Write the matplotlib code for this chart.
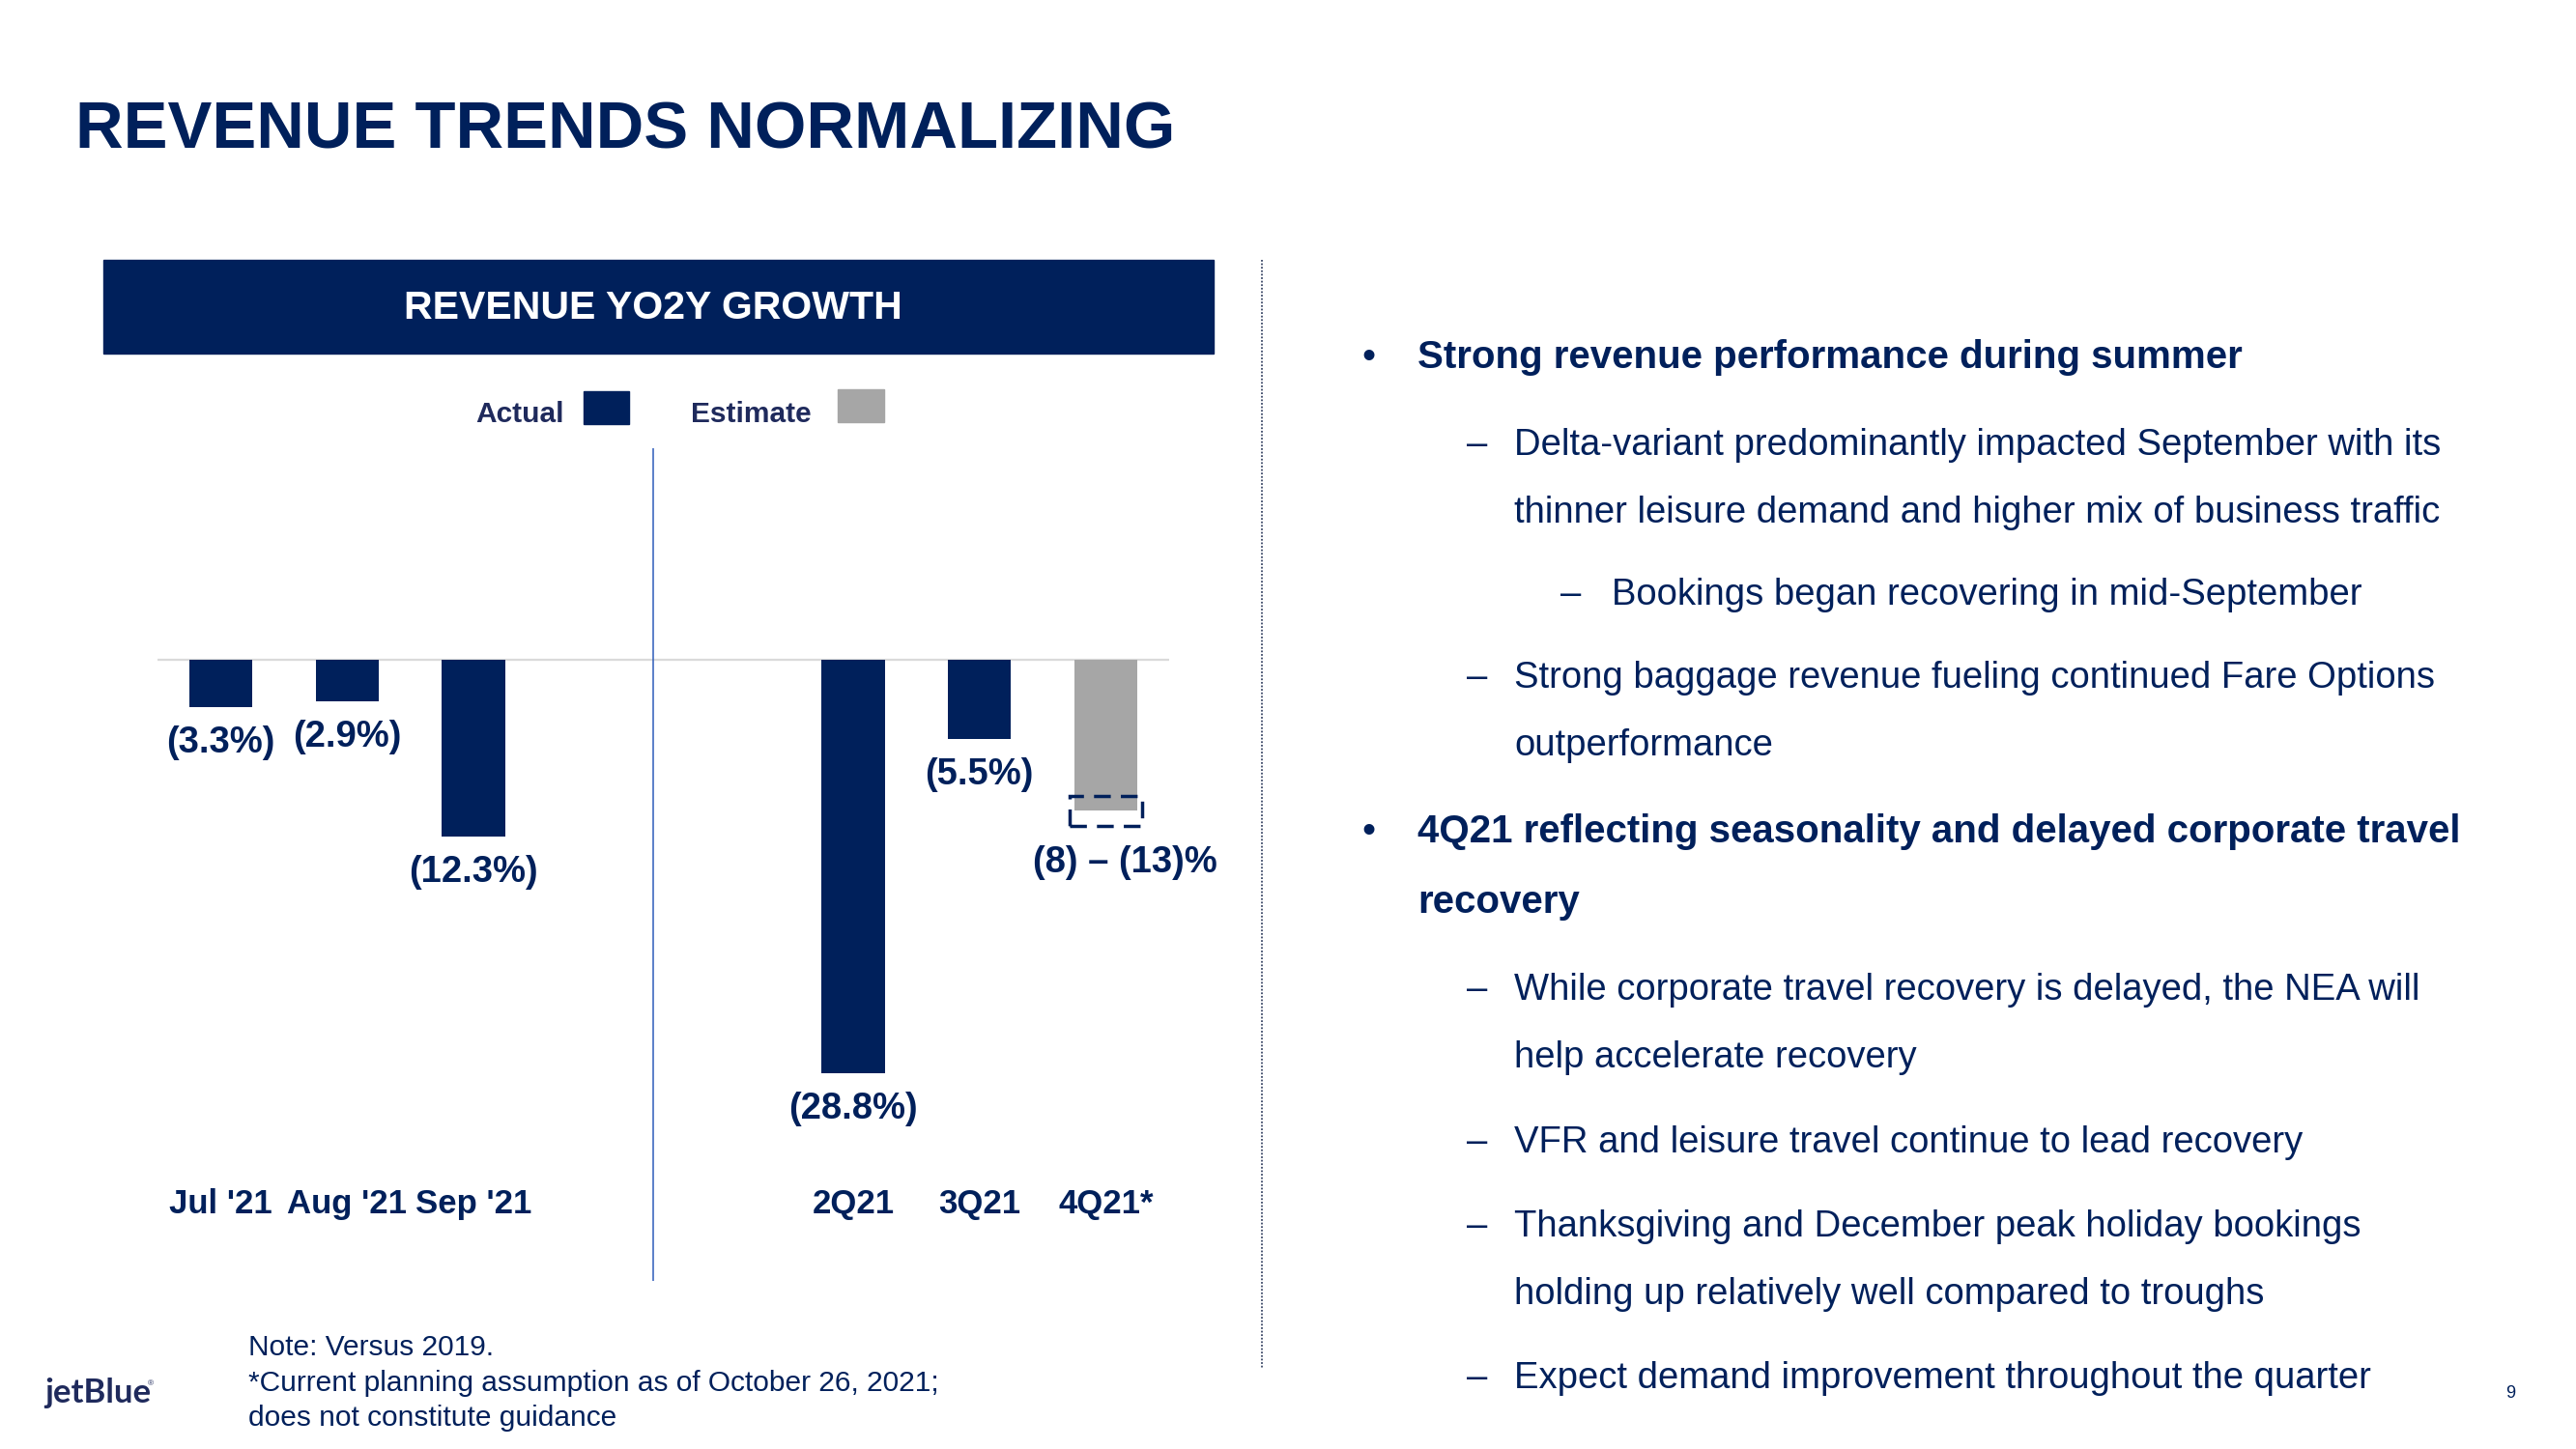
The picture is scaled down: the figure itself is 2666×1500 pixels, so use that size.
import numpy as np
import matplotlib.pyplot as plt
import matplotlib.transforms as mtransforms
from matplotlib.patches import Rectangle
from matplotlib.lines import Line2D

plt.rcParams['font.family'] = ['Liberation Sans', 'DejaVu Sans']

# data
months = ["Jul '21", "Aug '21", "Sep '21"]
month_growth = [-3.3, -2.9, -12.3]
quarters = ['2Q21', '3Q21', '4Q21*']
quarter_actual = [-28.8, -5.5]
estimate_mid = -10.5           # grey bar for 4Q21 guidance
estimate_box = (-9.5, -11.6)   # dashed range box
estimate_label = '(8) – (13)%'

right_lines = [
    (0, 'Strong revenue performance during summer'),
    (1, 'Delta-variant predominantly impacted September with its'),
    (1, '+thinner leisure demand and higher mix of business traffic'),
    (2, 'Bookings began recovering in mid-September'),
    (1, 'Strong baggage revenue fueling continued Fare Options'),
    (1, '+outperformance'),
    (0, '4Q21 reflecting seasonality and delayed corporate travel'),
    (0, '+recovery'),
    (1, 'While corporate travel recovery is delayed, the NEA will'),
    (1, '+help accelerate recovery'),
    (1, 'VFR and leisure travel continue to lead recovery'),
    (1, 'Thanksgiving and December peak holiday bookings'),
    (1, '+holding up relatively well compared to troughs'),
    (1, 'Expect demand improvement throughout the quarter'),
]
notes = ['Note: Versus 2019.',
         '*Current planning assumption as of October 26, 2021;',
         'does not constitute guidance']

navy = '#00205B'
grey = '#A6A6A6'

W, H = 2666, 1500
fig = plt.figure(figsize=(W / 100, H / 100), dpi=100)
fig.patch.set_facecolor('white')


def fx(x):
    return x / W


def fy(y):
    return 1 - y / H


# title
fig.text(fx(78), fy(154), 'REVENUE TRENDS NORMALIZING', fontsize=49.5,
         fontweight='bold', color=navy, va='baseline', ha='left')

# chart header banner
fig.patches.append(Rectangle((fx(107), fy(366)), fx(1256) - fx(107), fy(269) - fy(366),
                             transform=fig.transFigure, color=navy, zorder=0))
fig.text(fx(676), fy(330), 'REVENUE YO2Y GROWTH', fontsize=29.5, fontweight='bold',
         color='white', ha='center', va='baseline')

# legend (label first, then swatch)
fig.text(fx(492), fy(437), 'Actual', fontsize=21.5, fontweight='bold', color='#1F2A5C',
         ha='left', va='baseline')
fig.patches.append(Rectangle((fx(604), fy(439)), fx(651) - fx(604), fy(405) - fy(439),
                             transform=fig.transFigure, color=navy))
fig.text(fx(715), fy(437), 'Estimate', fontsize=21.5, fontweight='bold', color='#1F2A5C',
         ha='left', va='baseline')
fig.patches.append(Rectangle((fx(867), fy(437)), fx(915) - fx(867), fy(403) - fy(437),
                             transform=fig.transFigure, color=grey))

# bar chart
ax = fig.add_axes([fx(163), fy(1326), fx(1210) - fx(163), fy(464) - fy(1326)])
ax.set_xlim(-0.5, 7.5)
ax.set_ylim(-43.3, 14.75)
ax.axis('off')

month_pos = np.arange(len(months))
quarter_pos = np.arange(len(quarters)) + 5

ax.axhline(0, color='#DADADA', lw=1.6, zorder=1)
ax.axvline(3.42, color='#2F5DBA', lw=1.1, zorder=1)

ax.bar(month_pos, month_growth, width=0.5, color=navy, zorder=2)
ax.bar(quarter_pos[:2], quarter_actual, width=0.5, color=navy, zorder=2)
ax.bar(quarter_pos[2], estimate_mid, width=0.5, color=grey, zorder=2)
ax.add_patch(Rectangle((quarter_pos[2] - 0.285, estimate_box[1]), 0.57,
                       estimate_box[0] - estimate_box[1], fill=False,
                       edgecolor=navy, lw=2.5, ls=(0, (5, 3)), zorder=3))

for x, v in zip(list(month_pos) + list(quarter_pos[:2]), month_growth + quarter_actual):
    ax.annotate(f'({abs(v):.1f}%)', (x, v), xytext=(0, -34), textcoords='offset points',
                ha='center', va='baseline', fontsize=27.5, fontweight='bold', color=navy)
ax.annotate(estimate_label, (quarter_pos[2], estimate_box[1]), xytext=(14, -34),
            textcoords='offset points', ha='center', va='baseline', fontsize=27.5,
            fontweight='bold', color=navy)

trans = mtransforms.blended_transform_factory(ax.transData, ax.transAxes)
for x, lab in zip(list(month_pos) + list(quarter_pos), months + quarters):
    ax.text(x, 0.0812, lab, transform=trans, ha='center', va='baseline',
            fontsize=25, fontweight='bold', color=navy)

# footnote
for y, line in zip([1403, 1440, 1476], notes):
    fig.text(fx(257), fy(y), line, fontsize=21.5, color=navy, va='baseline', ha='left')

# dotted separator
fig.lines.append(Line2D([fx(1306), fx(1306)], [fy(269), fy(1416)], transform=fig.transFigure,
                        color='#3A4766', lw=1.3, ls=(0, (1, 1))))

# right-hand commentary
marker_x = {0: 1409, 1: 1518, 2: 1615}
text_x = {0: 1467, 1: 1567, 2: 1668}
baselines = [381, 471, 541, 626, 712, 782, 872, 945, 1035, 1105, 1193, 1280, 1350, 1437]
for y, (lvl, txt) in zip(baselines, right_lines):
    cont = txt.startswith('+')
    txt = txt.lstrip('+')
    bold = lvl == 0
    size = 29 if bold else 27.5
    if not cont:
        fig.text(fx(marker_x[lvl]), fy(y), '•' if lvl == 0 else '–', fontsize=size,
                 color=navy, va='baseline', ha='left')
    fig.text(fx(text_x[lvl]), fy(y), txt, fontsize=size, color=navy, va='baseline',
             ha='left', fontweight='bold' if bold else 'normal')

# logo and page number
fig.text(fx(46), fy(1452), 'jetBlue', fontsize=25, family=['Lato', 'DejaVu Sans'],
         fontweight='bold', color='#1F2A5C', va='baseline', ha='left')
fig.text(fx(153), fy(1434), '®', fontsize=6, color='#1F2A5C', va='baseline', ha='left')
fig.text(fx(2598), fy(1447), '9', fontsize=13, color=navy, va='baseline', ha='center')

fig.savefig('out.png', dpi=100)
